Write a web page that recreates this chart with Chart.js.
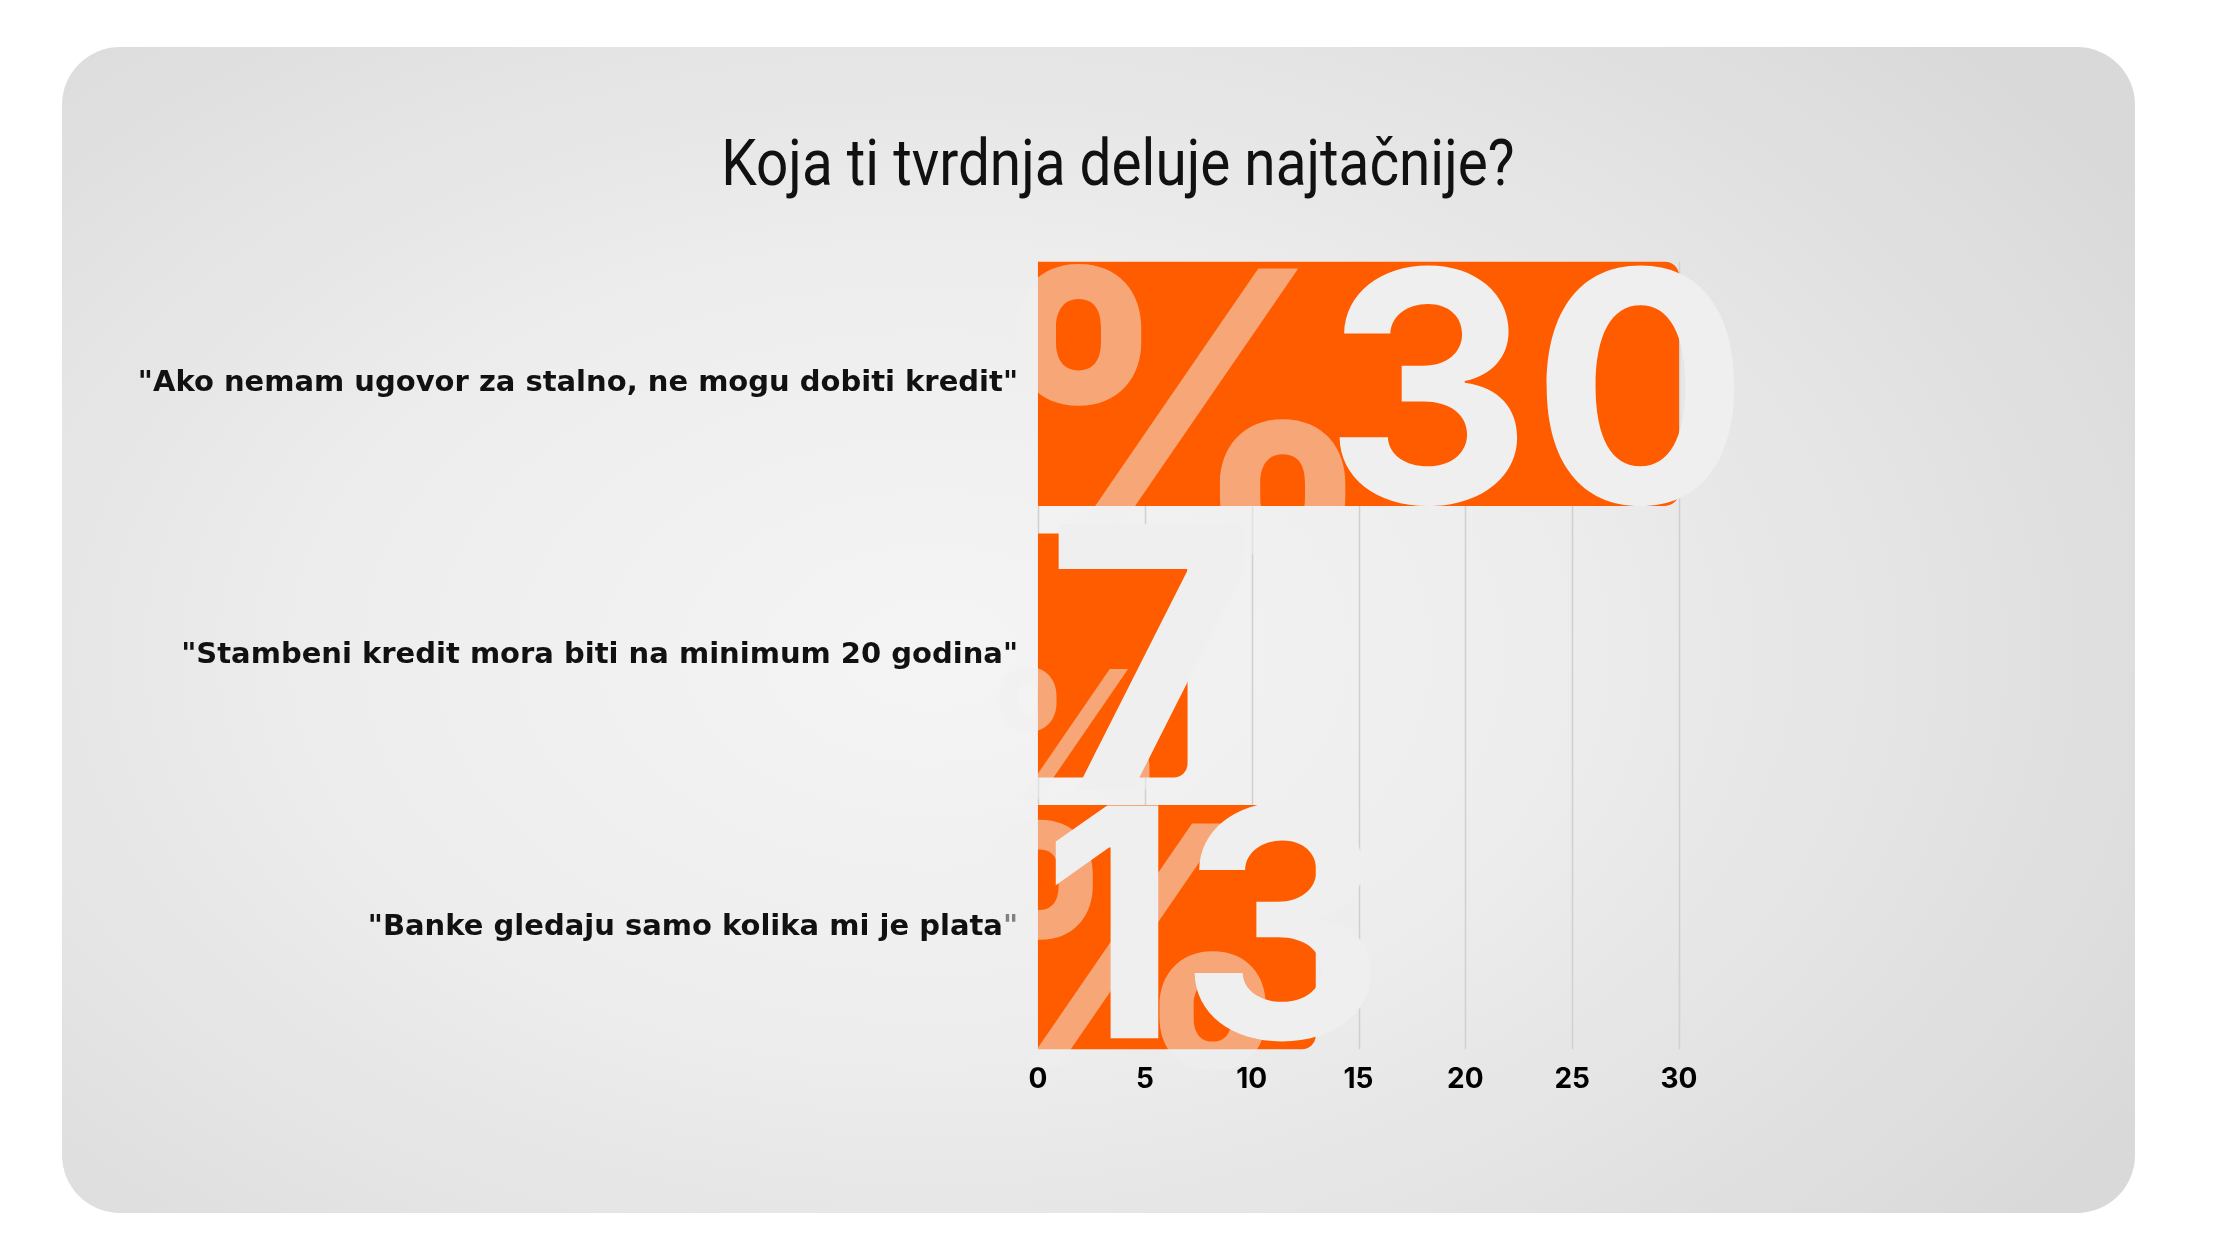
<!DOCTYPE html>
<html>
<head>
<meta charset="utf-8">
<script src="https://cdn.jsdelivr.net/npm/chart.js@4/dist/chart.umd.min.js"></script>
<style>
    html, body { margin: 0; padding: 0; background: #ffffff; }
    body { width: 2240px; height: 1260px; position: relative; overflow: hidden; }
    #panel {
        position: absolute; left: 62px; top: 47px; width: 2073px; height: 1166px;
        border-radius: 58px;
        background: radial-gradient(ellipse 68% 78% at 42% 52%, #f4f4f4 0%, #eeeeee 40%, #e2e2e2 75%, #d9d9d9 100%);
    }
    #title {
        position: absolute; left: 0; top: 131px; width: 2236px; text-align: center;
        font-family: Roboto, sans-serif; font-size: 65px; line-height: 65px; font-weight: 400;
        color: #111111; white-space: nowrap;
    }
    #title span { display: inline-block; transform-origin: 50% 50%; }
    #chart { position: absolute; left: 0; top: 0; }
</style>
</head>
<body>
<div id="panel"></div>
<div id="title"><span id="titleText">Koja ti tvrdnja deluje najtačnije?</span></div>
<canvas id="chart" width="2240" height="1260"></canvas>
<script>
// Data:
const categories = [
    '"Ako nemam ugovor za stalno, ne mogu dobiti kredit"',
    '"Stambeni kredit mora biti na minimum 20 godina"',
    '"Banke gledaju samo kolika mi je plata"'
];
const shares = [30, 7, 13];
const axisMax = 30;
const axisStep = 5;

// Look of the big "%" + number stamped over each bar (style only):
const decorStyles = [
    { numSize: 322, numDy: -3, pctSize: 395, pctDx: -58, pctDy: 50 },
    { numSize: 365, numDy: 12, pctSize: 180, pctDx: -55, pctDy: 22 },
    { numSize: 320, numDy: -11, pctSize: 335, pctDx: -82, pctDy: 18 }
];

const labelFont = "'DejaVu Sans', sans-serif";
const tickFont = "Inter, 'Noto Sans', sans-serif";
const bigFont = "Inter, 'Noto Sans', sans-serif";

// Condensed look for the title (no condensed face installed):
(function fitTitle()
{
    const span = document.getElementById("titleText");
    const w = span.getBoundingClientRect().width;
    if (w > 0) span.style.transform = "scaleX(" + (793 / w).toFixed(3) + ")";
})();

// Grid lines only between first bar top and last bar bottom:
const gridPlugin = {
    id: 'barGrid',
    beforeDatasetsDraw(chart)
    {
        const meta = chart.getDatasetMeta(0);
        const first = meta.data[0];
        const last = meta.data[meta.data.length - 1];
        const top = first.y - first.height / 2;
        const bottom = last.y + last.height / 2;
        const xs = chart.scales.x;
        const ctx = chart.ctx;
        ctx.save();
        ctx.strokeStyle = '#d0d0d0';
        ctx.lineWidth = 1.5;
        xs.ticks.forEach(function (t) {
            const x = Math.round(xs.getPixelForValue(t.value)) + 0.5;
            ctx.beginPath();
            ctx.moveTo(x, top);
            ctx.lineTo(x, bottom);
            ctx.stroke();
        });
        ctx.restore();
    }
};

// Big decorative "%" and value over each bar:
const decorPlugin = {
    id: 'decor',
    afterDatasetsDraw(chart)
    {
        const meta = chart.getDatasetMeta(0);
        const ctx = chart.ctx;
        meta.data.forEach(function (bar, i) {
            const st = decorStyles[i];
            const bottom = bar.y + bar.height / 2;
            ctx.save();
            ctx.textBaseline = 'alphabetic';
            ctx.font = '700 ' + st.pctSize + 'px ' + bigFont;
            ctx.fillStyle = 'rgba(240,240,240,0.5)';
            ctx.textAlign = 'left';
            ctx.fillText('%', bar.base + st.pctDx, bottom + st.pctDy);
            ctx.font = '700 ' + st.numSize + 'px ' + bigFont;
            ctx.fillStyle = '#efefef';
            ctx.textAlign = 'right';
            ctx.fillText(String(shares[i]), bar.x + 70, bottom + st.numDy);
            ctx.restore();
        });
    }
};

const ctx = document.getElementById('chart').getContext('2d');
const myChart = new Chart(ctx, {
    type: 'bar',
    data: {
        labels: categories,
        datasets: [{
            data: shares,
            backgroundColor: '#ff5c00',
            borderSkipped: 'start',
            borderRadius: { topLeft: 0, bottomLeft: 0, topRight: 14, bottomRight: 14 },
            barPercentage: 1,
            categoryPercentage: 0.899
        }]
    },
    options: {
        indexAxis: 'y',
        responsive: false,
        animation: false,
        devicePixelRatio: 1,
        layout: {
            padding: { left: 0, right: 561, top: 248, bottom: 157 }
        },
        plugins: {
            legend: { display: false },
            tooltip: { enabled: false },
            title: { display: false }
        },
        scales: {
            x: {
                min: 0,
                max: axisMax,
                grid: { display: false, drawTicks: false },
                border: { display: false },
                ticks: {
                    stepSize: axisStep,
                    padding: 0,
                    color: '#000000',
                    font: { family: tickFont, size: 28, weight: 'bold' }
                },
                afterFit: function (scale) { scale.height = 40; }
            },
            y: {
                grid: { display: false, drawTicks: false },
                border: { display: false },
                ticks: {
                    padding: 20,
                    color: '#111111',
                    font: { family: labelFont, size: 29, weight: 'bold' }
                },
                afterFit: function (scale) { scale.width = 1038; }
            }
        }
    },
    plugins: [gridPlugin, decorPlugin]
});
</script>
</body>
</html>
